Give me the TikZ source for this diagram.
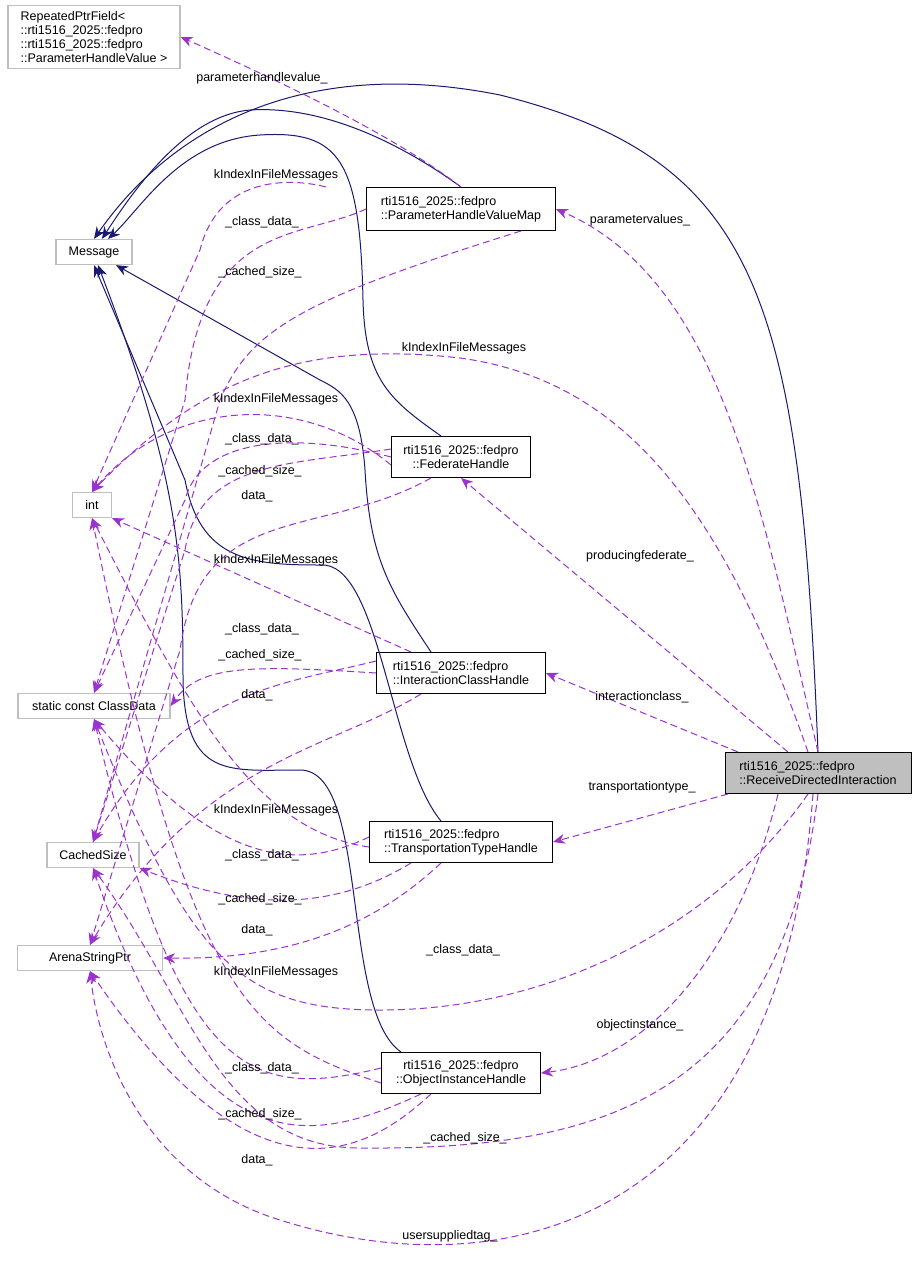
\documentclass[tikz,border=0pt]{standalone}
\usepackage{fontspec}
\setmainfont{Liberation Sans}
\usetikzlibrary{arrows.meta}
\definecolor{edgepurple}{HTML}{9A32CD}
\definecolor{inhnavy}{HTML}{191970}
\tikzset{
  cls/.style={draw=black,line width=1pt,align=left,inner sep=2pt,font=\fontsize{12.5}{14}\selectfont},
  ext/.style={draw=black!25,line width=1.2pt,align=left,inner sep=2pt,font=\fontsize{12.5}{14}\selectfont},
  inh/.style={draw=inhnavy,line width=1pt,-{Stealth[length=12pt,width=10pt]}},
  use/.style={draw=edgepurple,line width=1pt,dashed,dash pattern=on 7pt off 4pt,-{Stealth[length=12pt,width=10pt]}},
  lbl/.style={font=\fontsize{12.5}{14}\selectfont,inner sep=0pt}
}
\begin{document}
\begin{tikzpicture}[x=1pt,y=-1pt]
  \useasboundingbox (0,0) rectangle (917,1277);
  % classes
  \node[ext,minimum width=172,minimum height=63] (rpf) at (94,37) {RepeatedPtrField\textless\\::rti1516\_2025::fedpro\\::rti1516\_2025::fedpro\\::ParameterHandleValue \textgreater};
  \node[ext,minimum width=76,minimum height=25,align=center] (msg) at (94,252) {Message};
  \node[ext,minimum width=39,minimum height=25,align=center] (int) at (92,505) {int};
  \node[ext,minimum width=152,minimum height=25,align=center] (cd) at (94,706) {static const ClassData};
  \node[ext,minimum width=92,minimum height=25,align=center] (cs) at (93,855) {CachedSize};
  \node[ext,minimum width=145,minimum height=25,align=center] (asp) at (90,958) {ArenaStringPtr};
  \node[cls,minimum width=189,minimum height=43] (phvm) at (461,209) {rti1516\_2025::fedpro\\::ParameterHandleValueMap};
  \node[cls,minimum width=139,minimum height=41,align=center] (fh) at (461,457) {rti1516\_2025::fedpro\\::FederateHandle};
  \node[cls,minimum width=169,minimum height=41] (ich) at (461,673) {rti1516\_2025::fedpro\\::InteractionClassHandle};
  \node[cls,minimum width=183,minimum height=41] (tth) at (461,842) {rti1516\_2025::fedpro\\::TransportationTypeHandle};
  \node[cls,minimum width=159,minimum height=41,align=center] (oih) at (461,1073) {rti1516\_2025::fedpro\\::ObjectInstanceHandle};
  \node[cls,fill=black!25,minimum width=186,minimum height=41] (rdi) at (818,773) {rti1516\_2025::fedpro\\::ReceiveDirectedInteraction};
  % inheritance
  \draw[inh] (rdi.north) .. controls (800,300) and (760,160) .. (500,95) .. controls (300,55) and (170,130) .. (msg.north);
  \draw[inh] (phvm.north) .. controls (410,150) and (330,105) .. (250,110) .. controls (190,115) and (140,180) .. ([xshift=8]msg.north);
  \draw[inh] ([xshift=-20]fh.north) .. controls (390,400) and (365,380) .. (363,300) .. controls (360,160) and (340,130) .. (260,135) .. controls (180,140) and (140,210) .. ([xshift=14]msg.north);
  \draw[inh] ([xshift=-30]ich.north) .. controls (390,590) and (370,560) .. (365,470) .. controls (360,400) and (340,390) .. (320,380) -- ([xshift=22]msg.south);
  \draw[inh] ([xshift=-20]tth.north) .. controls (390,760) and (380,560) .. (320,565) .. controls (250,565) and (200,560) .. (185,480) -- (msg.south);
  \draw[inh] ([xshift=-60]oih.north) .. controls (340,1010) and (370,770) .. (300,770) .. controls (230,770) and (185,780) .. (183,680) .. controls (183,560) and (180,480) .. ([xshift=4]msg.south);
  % members of ReceiveDirectedInteraction
  \draw[use] (phvm.north) .. controls (400,140) and (300,90) .. (rpf.east);
  \node[lbl] (l1) at (262,78) {parameterhandlevalue\_};
  \draw[use] (rdi.north) .. controls (760,500) and (720,280) .. (phvm.east);
  \node[lbl] (l2) at (640,220) {parametervalues\_};
  \draw[use] ([xshift=-10]rdi.north) .. controls (720,500) and (620,380) .. (460,358) .. controls (300,340) and (200,380) .. (int.north);
  \node[lbl] (l3) at (464,348) {kIndexInFileMessages};
  \draw[use] ([xshift=-30]rdi.north) -- (fh.south);
  \node[lbl] (l4) at (640,556) {producingfederate\_};
  \draw[use] ([xshift=-80]rdi.north) -- (ich.east);
  \node[lbl] (l5) at (642,697) {interactionclass\_};
  \draw[use] ([xshift=-90]rdi.south) -- (tth.east);
  \node[lbl] (l6) at (642,787) {transportationtype\_};
  \draw[use] ([xshift=-10]rdi.south) .. controls (720,920) and (560,1010) .. (380,1010) .. controls (240,1010) and (190,960) .. (cd.south);
  \node[lbl] (l7) at (463,950) {\_class\_data\_};
  \draw[use] ([xshift=-40]rdi.south) .. controls (740,950) and (650,1060) .. (oih.east);
  \node[lbl] (l8) at (640,1025) {objectinstance\_};
  \draw[use] (rdi.south) .. controls (780,1100) and (600,1150) .. (360,1148) .. controls (220,1148) and (190,1000) .. (cs.south);
  \node[lbl] (l9) at (465,1138) {\_cached\_size\_};
  \draw[use] ([xshift=-5]rdi.south) .. controls (780,1230) and (500,1290) .. (280,1220) .. controls (150,1180) and (100,1060) .. (asp.south);
  \node[lbl] (l10) at (450,1236) {usersuppliedtag\_};
  % members of ParameterHandleValueMap
  \draw[use] ([xshift=-40]phvm.north west) .. controls (300,180) and (220,170) .. (200,250) -- (int.north);
  \node[lbl] (l11) at (276,175) {kIndexInFileMessages};
  \draw[use] (phvm.west) .. controls (300,240) and (200,220) .. (185,400) -- (cd.north);
  \node[lbl] (l12) at (262,222) {\_class\_data\_};
  \draw[use] ([xshift=60]phvm.south) .. controls (300,300) and (250,330) .. (220,400) -- (cs.north);
  \node[lbl] (l13) at (260,272) {\_cached\_size\_};
  % members of FederateHandle
  \draw[use] ([yshift=-8]fh.west) .. controls (300,390) and (170,400) .. (int.north);
  \node[lbl] (l14) at (276,399) {kIndexInFileMessages};
  \draw[use] (fh.west) .. controls (290,430) and (200,440) .. (185,500) -- (cd.north);
  \node[lbl] (l15) at (262,439) {\_class\_data\_};
  \draw[use] ([yshift=8]fh.west) .. controls (290,465) and (200,460) .. (185,550) -- (cs.north);
  \node[lbl] (l16) at (260,471) {\_cached\_size\_};
  \draw[use] ([xshift=-30]fh.south) .. controls (320,540) and (200,500) .. (180,650) -- (asp.north);
  \node[lbl] (l17) at (257,496) {data\_};
  % members of InteractionClassHandle
  \draw[use] ([xshift=-50]ich.north) -- (int.south east);
  \node[lbl] (l18) at (276,560) {kIndexInFileMessages};
  \draw[use] (ich.west) .. controls (250,665) and (200,665) .. (cd.east);
  \node[lbl] (l19) at (262,629) {\_class\_data\_};
  \draw[use] ([yshift=12]ich.west) .. controls (280,685) and (180,690) .. (cs.north);
  \node[lbl] (l20) at (260,655) {\_cached\_size\_};
  \draw[use] ([xshift=-40]ich.south) .. controls (330,750) and (200,760) .. (asp.north);
  \node[lbl] (l21) at (257,695) {data\_};
  % members of TransportationTypeHandle
  \draw[use] ([yshift=-5]tth.west) .. controls (250,830) and (185,700) .. (int.south);
  \node[lbl] (l22) at (276,810) {kIndexInFileMessages};
  \draw[use] ([yshift=5]tth.west) .. controls (300,870) and (220,870) .. (cd.south);
  \node[lbl] (l23) at (262,855) {\_class\_data\_};
  \draw[use] ([xshift=-50]tth.south) .. controls (350,900) and (270,920) .. (cs.south east);
  \node[lbl] (l24) at (260,899) {\_cached\_size\_};
  \draw[use] ([xshift=-20]tth.south) .. controls (380,920) and (300,960) .. (asp.east);
  \node[lbl] (l25) at (257,930) {data\_};
  % members of ObjectInstanceHandle
  \draw[use] ([yshift=-10]oih.west) .. controls (250,1040) and (190,1000) .. (int.south);
  \node[lbl] (l26) at (276,972) {kIndexInFileMessages};
  \draw[use] ([yshift=5]oih.west) .. controls (250,1100) and (180,1080) .. (cd.south);
  \node[lbl] (l27) at (262,1068) {\_class\_data\_};
  \draw[use] ([xshift=-40]oih.south) .. controls (320,1140) and (200,1180) .. (cs.south);
  \node[lbl] (l28) at (260,1114) {\_cached\_size\_};
  \draw[use] ([xshift=-30]oih.south) .. controls (370,1150) and (260,1220) .. (asp.south);
  \node[lbl] (l29) at (257,1160) {data\_};
\end{tikzpicture}
\end{document}
